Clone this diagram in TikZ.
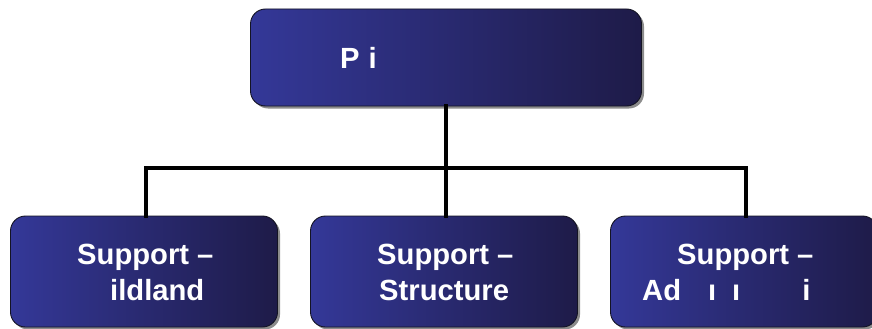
\documentclass[tikz,border=0pt]{standalone}
\usepackage{fontspec}
\setmainfont{Liberation Sans}
\usetikzlibrary{shadows}
\definecolor{boxleft}{RGB}{52,56,152}
\definecolor{boxright}{RGB}{30,27,72}
\definecolor{boxline}{RGB}{20,20,35}
\tikzset{
  orgbox/.style={draw=boxline, line width=0.9pt, rounded corners=15pt,
    left color=boxleft, right color=boxright, shading angle=90,
    drop shadow={shadow xshift=2.5pt, shadow yshift=-2.5pt, fill=black!45, opacity=1},
    minimum height=97pt, inner sep=0pt},
  orgtext/.style={text=white, font=\bfseries\fontsize{29.2}{36}\selectfont, inner sep=0pt, anchor=base west},
  connector/.style={line width=4pt, line cap=rect}
}
\begin{document}
\begin{tikzpicture}[x=1pt, y=-1pt]
\useasboundingbox (0,0) rectangle (872,329);
% boxes
\node[orgbox, minimum width=391pt, minimum height=97pt] (top) at (446,57.5) {};
\node[orgbox, minimum width=267pt, minimum height=111pt] (b1) at (144,271.5) {};
\node[orgbox, minimum width=267pt, minimum height=111pt] (b2) at (444,271.5) {};
\node[orgbox, minimum width=267pt, minimum height=111pt] (b3) at (744,271.5) {};
% connectors
\coordinate (j) at (446,168);
\draw[connector] (top.south) -- (j);
\draw[connector] (146,168) -- (746,168);
\draw[connector] (146,168) -- (146,216);
\draw[connector] (j) -- (446,216);
\draw[connector] (746,168) -- (746,216);
% texts
\node[orgtext] (t0) at (340,69) {P\hspace{9pt}i};
\node[orgtext] (t1a) at (77,264.5) {Support –};
\node[orgtext] (t1b) at (110,300.5) {ildland};
\node[orgtext] (t2a) at (377,264.5) {Support –};
\node[orgtext] (t2b) at (379,300.5) {Structure};
\node[orgtext] (t3a) at (677,264.5) {Support –};
\node[orgtext] (t3b) at (642,300.5) {Ad\hspace{27pt}ı\hspace{16pt}ı\hspace{62pt}i};
\end{tikzpicture}
\end{document}
